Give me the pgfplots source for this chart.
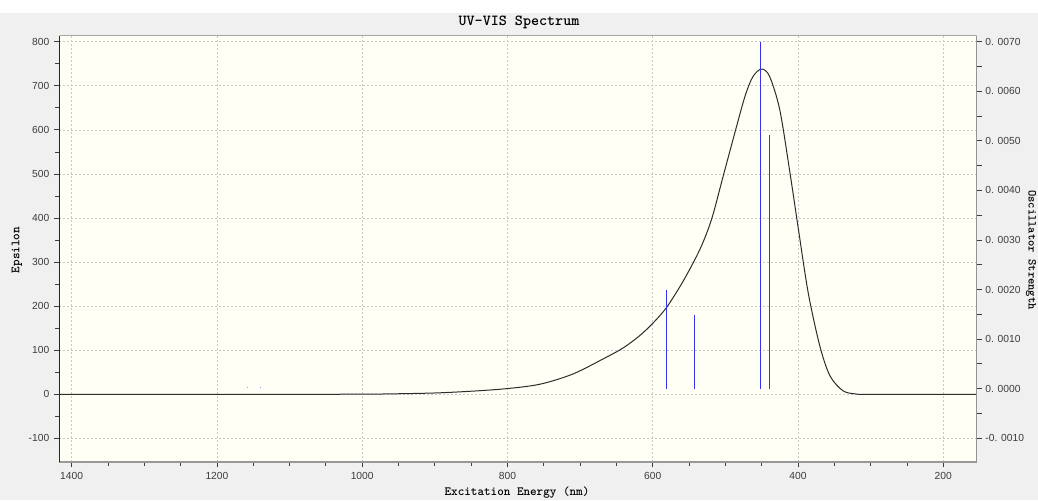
\documentclass[border=0pt]{standalone}
\usepackage{pgfplots}
\pgfplotsset{compat=1.18}
\usepackage{fontspec}
\setmainfont{Liberation Sans}
\definecolor{bggray}{RGB}{240,240,240}
\definecolor{cream}{RGB}{255,255,245}
\definecolor{stick}{RGB}{50,50,240}
\definecolor{curve}{RGB}{45,45,45}
\definecolor{tickc}{RGB}{60,60,60}
\definecolor{gridc}{RGB}{200,200,200}
\begin{document}
\begin{tikzpicture}[x=0.75pt,y=0.75pt]
\useasboundingbox (0,0) rectangle (1038,500);
\fill[white] (0,0) rectangle (1038,500);
\fill[bggray] (0,0) rectangle (1038,487);
\node[font=\ttfamily\bfseries\fontsize{11.5}{12}\selectfont] at (519,478) {UV-VIS Spectrum};
\node[font=\ttfamily\bfseries\fontsize{9.4}{10}\selectfont] at (517,7) {Excitation Energy (nm)};
\node[font=\ttfamily\bfseries\fontsize{9.4}{10}\selectfont, rotate=90] at (17,250) {Epsilon};
\node[font=\ttfamily\bfseries\fontsize{9}{10}\selectfont, rotate=-90, anchor=base, inner sep=0pt] at (1028.5,250) {Oscillator Strength};
\begin{axis}[
  at={(44.5pt,28.5pt)}, anchor=south west,
  scale only axis, width=688pt, height=319.7pt,
  x dir=reverse, xmin=154, xmax=1417, ymin=-153.6, ymax=813.6,
  xtick={200,400,...,1400}, minor x tick num=3,
  ytick={-100,0,...,800}, minor y tick num=1,
  axis x line*=bottom, axis y line*=left,
  x axis line style={-, gray!80, line width=1.3pt},
  y axis line style={-, black!85, line width=1.1pt},
  tick align=outside, major tick length=4pt, minor tick length=3pt,
  tick style={tickc, line width=0.6pt},
  xmajorgrids, ymajorgrids,
  major grid style={gridc, dash pattern=on 1.5pt off 1.5pt, line width=0.5pt},
  axis background/.style={fill=cream},
  ticklabel style={font=\fontsize{7.7}{8}\selectfont, text=tickc},
  /pgf/number format/assume math mode=true,
  /pgf/number format/1000 sep={},
  clip=true,
]
\addplot[curve, line width=0.75pt, smooth, tension=0.5] coordinates {
(1417,0) (1100,0) (1000,0.3) (960,1) (900,3) (850,7) (800,13) (755,23)
(710,46) (664,84) (640,106) (618,133) (600,161) (581,197) (558,257) (535,329)
(519,397) (503,495) (487,593) (473,676) (462,721) (450,738)
(439,721) (425,645) (411,502) (400,381) (386,231) (370,110)
(356,42) (338,8) (320,0.7) (300,0) (154,0)
};
\end{axis}
\begin{axis}[
  at={(44.5pt,28.5pt)}, anchor=south west,
  scale only axis, width=688pt, height=319.7pt,
  x dir=reverse, xmin=154, xmax=1417, ymin=-0.00148, ymax=0.00712,
  axis x line=none, axis y line*=right,
  axis line style={-, gray!85, line width=1.1pt},
  ytick={-0.001,0,0.001,0.002,0.003,0.004,0.005,0.006,0.007},
  yticklabels={-0. 0010,0. 0000,0. 0010,0. 0020,0. 0030,0. 0040,0. 0050,0. 0060,0. 0070},
  minor y tick num=1,
  tick align=outside, major tick length=4pt, minor tick length=4pt,
  tick style={tickc, line width=0.6pt},
  ticklabel style={font=\fontsize{7.7}{8}\selectfont, text=tickc},
  yticklabel style={xshift=-1pt},
  scaled y ticks=false,
]
\addplot[stick, line width=0.8pt] coordinates {(581,0) (581,0.00200)};
\addplot[stick, line width=0.8pt] coordinates {(543,0) (543,0.00149)};
\addplot[stick, line width=0.8pt] coordinates {(451,0) (451,0.00700)};
\addplot[stick, line width=0.8pt] coordinates {(439,0) (439,0.00511)};
\addplot[stick!50, line width=0.8pt] coordinates {(1158,0.00002) (1158,0.00004)};
\addplot[stick!50, line width=0.8pt] coordinates {(1140,0.00002) (1140,0.00004)};
\draw[gray!70, line width=1pt] (rel axis cs:0,1) -- (rel axis cs:1,1);
\end{axis}
\end{tikzpicture}
\end{document}
